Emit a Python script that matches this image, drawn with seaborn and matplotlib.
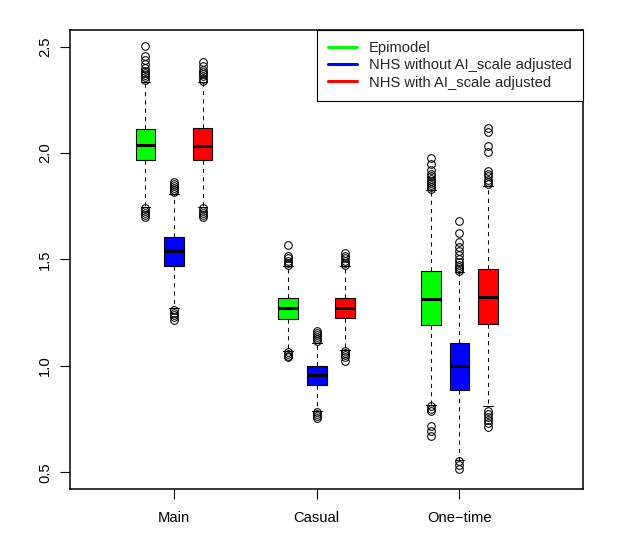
import matplotlib
matplotlib.use("Agg")
import matplotlib.pyplot as plt
import seaborn as sns
from matplotlib.lines import Line2D

# groups on the x axis and the three series drawn in each group
groups = ["Main", "Casual", "One\u2212time"]
series = ["Epimodel", "NHS without AI_scale adjusted", "NHS with AI_scale adjusted"]
colors = ["#00FF00", "#0000FF", "#FF0000"]

# box statistics: one row per series, one value per group
q1 = [[1.966, 1.219, 1.192],
      [1.468, 0.910, 0.887],
      [1.966, 1.224, 1.197]]
med = [[2.040, 1.2735, 1.314],
       [1.539, 0.957, 1.000],
       [2.032, 1.271, 1.325]]
q3 = [[2.115, 1.320, 1.446],
      [1.604, 1.000, 1.109],
      [2.118, 1.320, 1.455]]
whislo = [[1.745, 1.070, 0.815],
          [1.270, 0.790, 0.560],
          [1.745, 1.075, 0.810]]
whishi = [[2.335, 1.470, 1.825],
          [1.808, 1.110, 1.440],
          [2.335, 1.470, 1.845]]

# outliers (approximate, many overlap in the original)
fliers_epi = [
    [2.345, 2.355, 2.365, 2.375, 2.385, 2.40, 2.42, 2.435, 2.455, 2.505,
     1.74, 1.73, 1.72, 1.71, 1.70],
    [1.475, 1.485, 1.495, 1.505, 1.515, 1.57,
     1.065, 1.055, 1.045, 1.04],
    [1.83, 1.84, 1.85, 1.86, 1.87, 1.88, 1.89, 1.90, 1.92, 1.95, 1.975,
     0.81, 0.80, 0.79, 0.72, 0.695, 0.67],
]
fliers_nhs = [
    [1.815, 1.825, 1.835, 1.845, 1.855, 1.865,
     1.265, 1.25, 1.24, 1.23, 1.215],
    [1.115, 1.125, 1.135, 1.145, 1.155, 1.165,
     0.785, 0.775, 0.765, 0.755],
    [1.445, 1.455, 1.465, 1.475, 1.49, 1.50, 1.52, 1.54, 1.56, 1.58, 1.625, 1.68,
     0.553, 0.535, 0.518],
]
fliers_nhs_ai = [
    [2.34, 2.35, 2.36, 2.37, 2.38, 2.39, 2.41, 2.43,
     1.74, 1.73, 1.72, 1.71, 1.70],
    [1.475, 1.485, 1.495, 1.505, 1.515, 1.53,
     1.07, 1.06, 1.05, 1.04, 1.022],
    [1.855, 1.865, 1.875, 1.89, 1.90, 1.915, 2.005, 2.033, 2.10, 2.118,
     0.79, 0.775, 0.76, 0.745, 0.73, 0.715],
]
fliers = [fliers_epi, fliers_nhs, fliers_nhs_ai]

sns.set_style("white")
plt.rcParams['font.family'] = ['Liberation Sans', 'DejaVu Sans']
fs = 10.6

fig = plt.figure(figsize=(6.21, 5.57), dpi=100)
ax = fig.add_axes([70 / 621, 1 - 489 / 557, 513 / 621, 459 / 557])

offsets = [-0.2, 0.0, 0.2]
for si in range(len(series)):
    stats = []
    for gi in range(len(groups)):
        stats.append(dict(q1=q1[si][gi], med=med[si][gi], q3=q3[si][gi],
                          whislo=whislo[si][gi], whishi=whishi[si][gi],
                          fliers=fliers[si][gi]))
    positions = [gi + 1 + offsets[si] for gi in range(len(groups))]
    ax.bxp(stats, positions=positions, widths=0.137, capwidths=0.068,
           patch_artist=True, manage_ticks=False,
           boxprops=dict(facecolor=colors[si], edgecolor='black', linewidth=0.8),
           medianprops=dict(color='black', linewidth=2.2, solid_capstyle='butt'),
           whiskerprops=dict(color='black', linewidth=0.75, linestyle=(0, (4, 4))),
           capprops=dict(color='black', linewidth=0.75),
           flierprops=dict(marker='o', markerfacecolor='none', markeredgecolor='black',
                           markersize=5.5, markeredgewidth=0.75))

ax.set_xlim(0.271, 3.866)
ax.set_ylim(0.422, 2.578)
ax.set_xticks([1, 2, 3])
ax.set_xticklabels(groups, fontsize=fs)
yticks = [0.5, 1.0, 1.5, 2.0, 2.5]
ax.set_yticks(yticks)
ax.set_yticklabels([f"{v:.1f}" for v in yticks], fontsize=fs, rotation=90, va='center')

ax.tick_params(axis='both', direction='out', length=7, width=0.8, color='black',
               bottom=True, left=True, labelcolor='black')
ax.tick_params(axis='x', pad=9)
ax.tick_params(axis='y', pad=6)
for sp in ax.spines.values():
    sp.set_visible(True)
    sp.set_color('black')
    sp.set_linewidth(1.1)

handles = [Line2D([0], [0], color=c, linewidth=2.2) for c in colors]
leg = ax.legend(handles, series, loc='upper right', borderaxespad=0, frameon=True,
                fancybox=False, edgecolor='black', framealpha=1, handlelength=2.0,
                handletextpad=0.8, borderpad=0.75, labelspacing=0.22, fontsize=fs)
leg.get_frame().set_linewidth(0.8)

fig.savefig('out.png', dpi=100)
